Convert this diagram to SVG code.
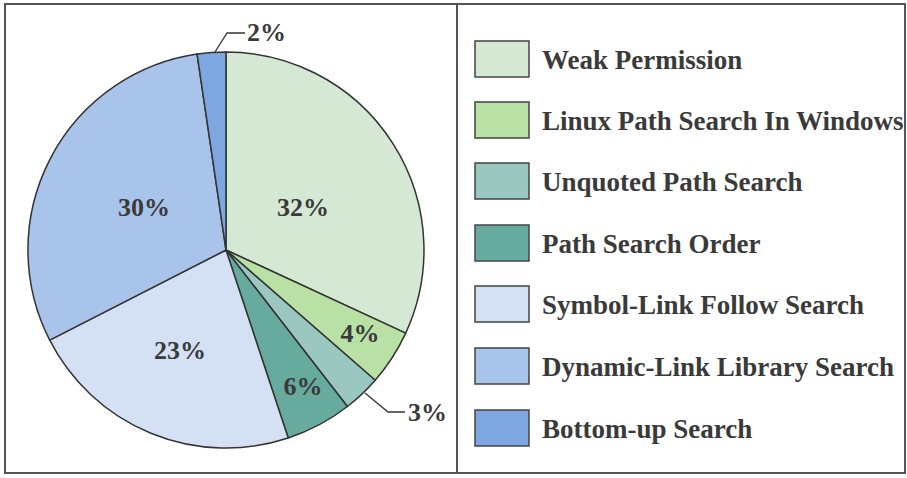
<svg xmlns="http://www.w3.org/2000/svg" width="907" height="478" viewBox="0 0 907 478">
<style>
.sl{stroke:#333;stroke-width:1.5;stroke-linejoin:round}
.lb{font-family:"Liberation Serif","Times New Roman",serif;font-weight:bold;font-size:26px;fill:#3a3a3a}
.lt{font-size:27px}
.pc{text-anchor:middle}
.lg{stroke:#444;stroke-width:1.5}
.ld{fill:none;stroke:#333;stroke-width:1.3}
</style>
<rect x="0" y="0" width="907" height="478" fill="#fff"/>
<rect x="5" y="4" width="900" height="469" fill="none" stroke="#555" stroke-width="2"/>
<line x1="457" y1="4" x2="457" y2="473" stroke="#555" stroke-width="2"/>
<g id="pie">
<g id="s-weak"><path class="sl" fill="#d5e8d4" d="M226,250 L226,52 A198,198 0 0 1 405.7,333.1 Z"/></g>
<g id="s-linux"><path class="sl" fill="#b9e0a5" d="M226,250 L405.7,333.1 A198,198 0 0 1 375.2,380.2 Z"/></g>
<g id="s-unquoted"><path class="sl" fill="#9ac7bf" d="M226,250 L375.2,380.2 A198,198 0 0 1 347.4,406.5 Z"/></g>
<g id="s-order"><path class="sl" fill="#67ab9f" d="M226,250 L347.4,406.5 A198,198 0 0 1 288.2,438 Z"/></g>
<g id="s-symbol"><path class="sl" fill="#d4e1f5" d="M226,250 L288.2,438 A198,198 0 0 1 49.7,340.2 Z"/></g>
<g id="s-dll"><path class="sl" fill="#a9c4eb" d="M226,250 L49.7,340.2 A198,198 0 0 1 197.1,54.1 Z"/></g>
<g id="s-bottom"><path class="sl" fill="#7ea6e0" d="M226,250 L197.1,54.1 A198,198 0 0 1 226,52 Z"/></g>
</g>
<g id="connectors">
<polyline class="ld" points="215,52 227,33 245,33"/>
<polyline class="ld" points="365,393 388,412 405,412"/>
</g>
<g id="pct-labels">
<text class="lb pc" x="303" y="216">32%</text>
<text class="lb pc" x="144" y="216">30%</text>
<text class="lb pc" x="180" y="359">23%</text>
<text class="lb pc" x="360" y="342">4%</text>
<text class="lb pc" x="303" y="395">6%</text>
<text class="lb" x="408" y="421">3%</text>
<text class="lb" x="247" y="41">2%</text>
</g>
<g id="legend">
<g id="lg-weak"><rect class="lg" x="475" y="41" width="54" height="36" fill="#d5e8d4"/><text class="lb lt" x="542" y="69">Weak Permission</text></g>
<g id="lg-linux"><rect class="lg" x="475" y="102" width="54" height="36" fill="#b9e0a5"/><text class="lb lt" x="542" y="130">Linux Path Search In Windows</text></g>
<g id="lg-unquoted"><rect class="lg" x="475" y="163" width="54" height="36" fill="#9ac7bf"/><text class="lb lt" x="542" y="191">Unquoted Path Search</text></g>
<g id="lg-order"><rect class="lg" x="475" y="225" width="54" height="36" fill="#67ab9f"/><text class="lb lt" x="542" y="253">Path Search Order</text></g>
<g id="lg-symbol"><rect class="lg" x="475" y="286" width="54" height="36" fill="#d4e1f5"/><text class="lb lt" x="542" y="314">Symbol-Link Follow Search</text></g>
<g id="lg-dll"><rect class="lg" x="475" y="348" width="54" height="36" fill="#a9c4eb"/><text class="lb lt" x="542" y="376">Dynamic-Link Library Search</text></g>
<g id="lg-bottom"><rect class="lg" x="475" y="410" width="54" height="36" fill="#7ea6e0"/><text class="lb lt" x="542" y="438">Bottom-up Search</text></g>
</g>
</svg>
